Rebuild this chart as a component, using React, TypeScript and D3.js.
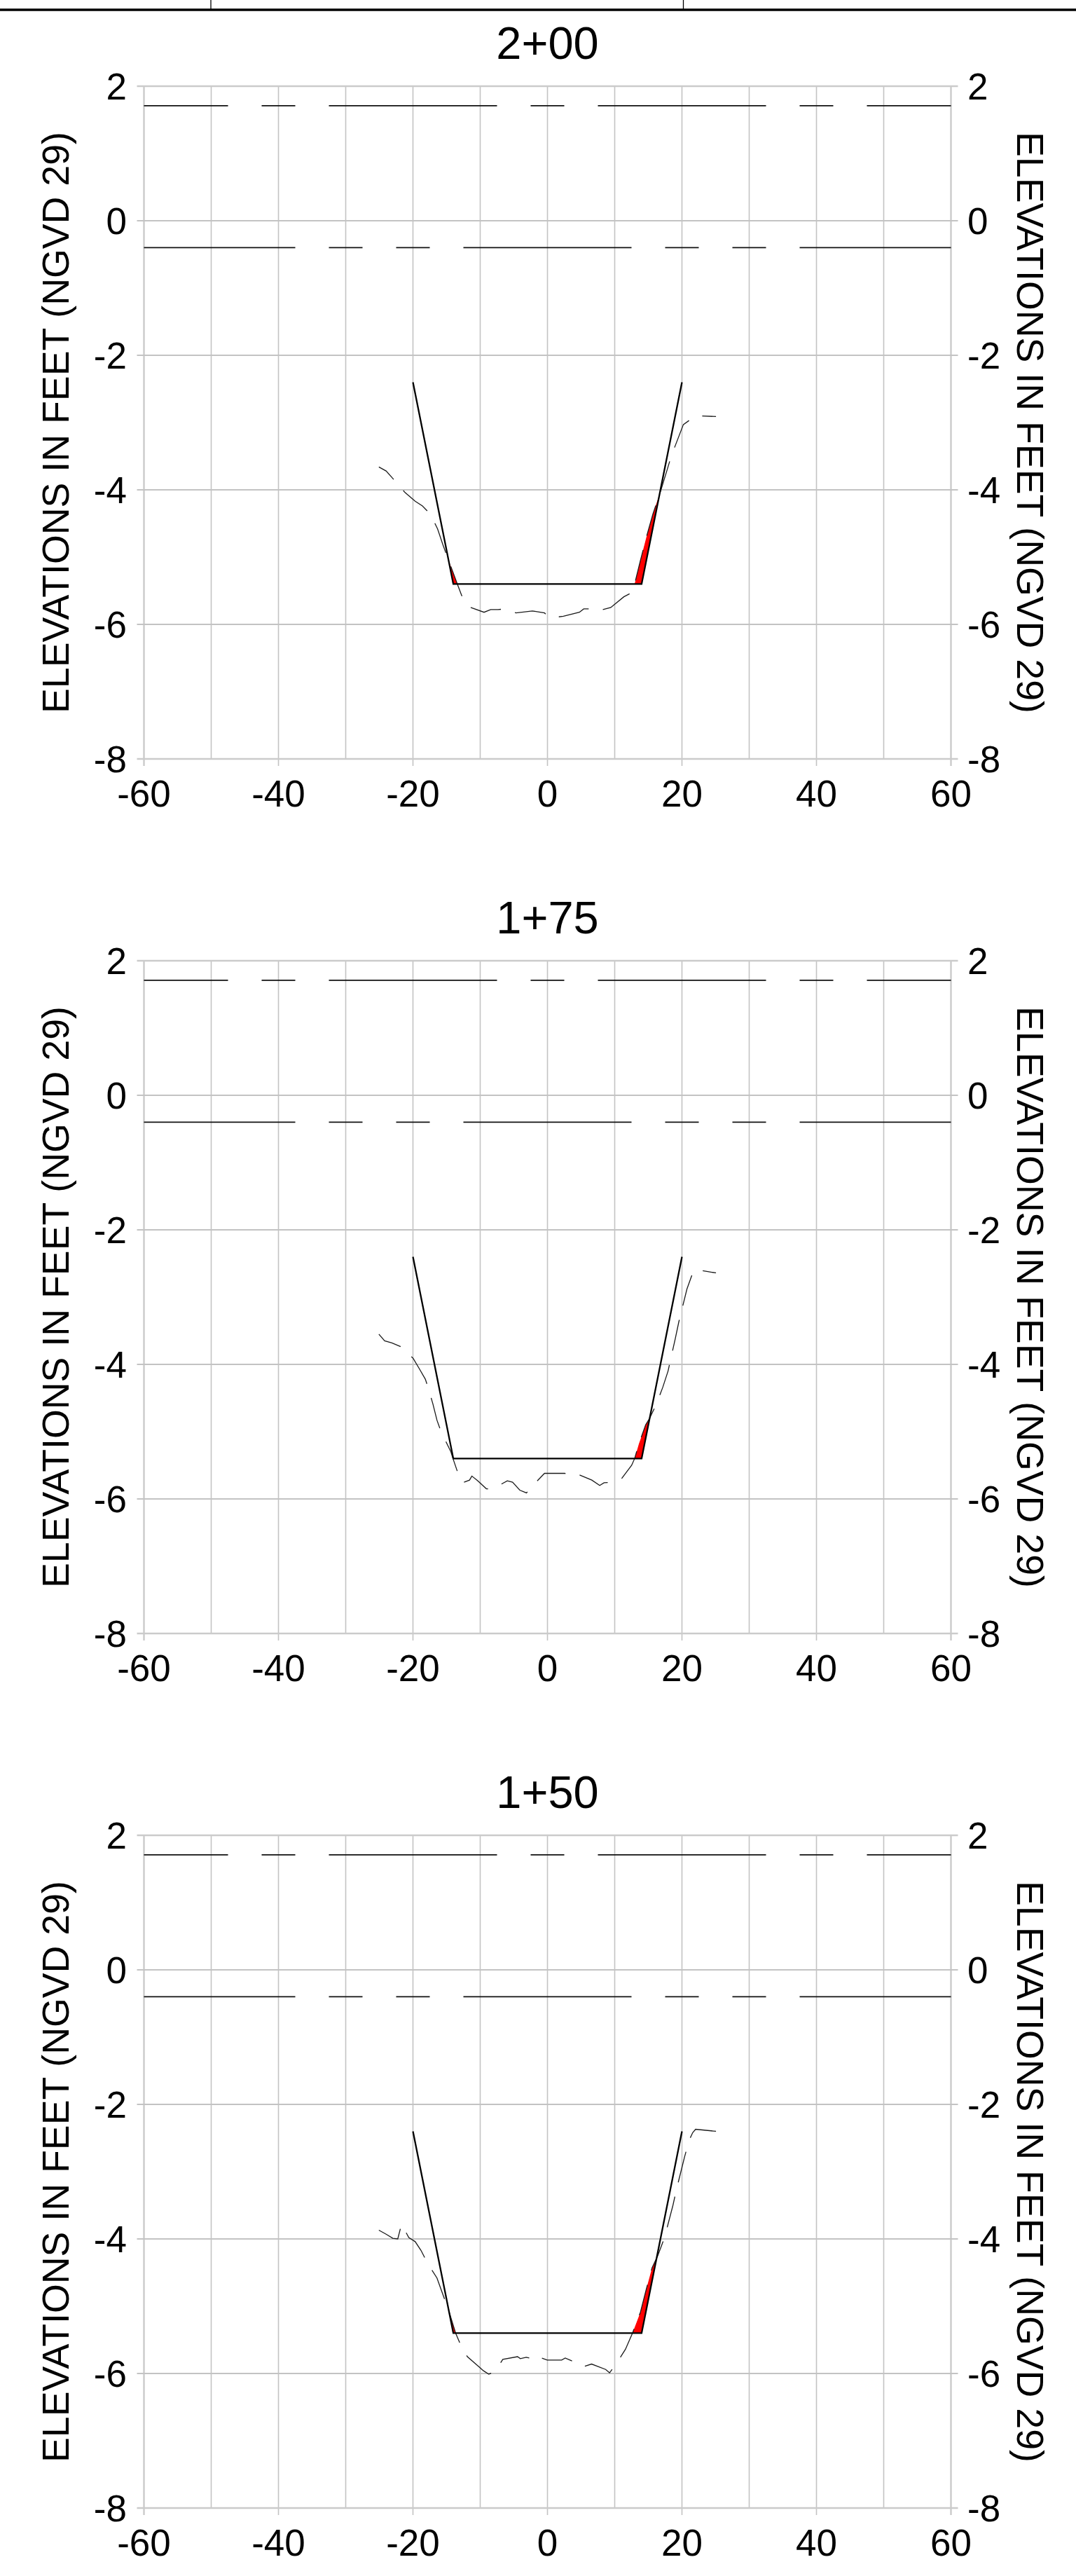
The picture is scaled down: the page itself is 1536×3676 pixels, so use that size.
import React from "react";
import * as d3 from "d3";

// ---------- data ----------
const stations = ["2+00", "1+75", "1+50"];
const xTickValues = [-60, -40, -20, 0, 20, 40, 60];
const xGridValues = [-60, -50, -40, -30, -20, -10, 0, 10, 20, 30, 40, 50, 60];
const yTickValues = [2, 0, -2, -4, -6, -8];
const axisTitle = "ELEVATIONS IN FEET (NGVD 29)";

// design channel template
const designX = [-20, -14, 14, 20];
const designY = [-2.4, -5.4, -5.4, -2.4];

// reference water levels
const upperLevel = 1.71;
const lowerLevel = -0.4;

// surveyed ground, station 2+00
const groundX200 = [-25.07, -23.99, -22.83, -21.18, -19.67, -18.59, -17.42, -16.34, -15.57, -14.7, -13.4, -12.76, -11.68, -9.43, -8.44, -7.35, -6.27, -4.67, -2.25, -0.44, 0.0, 0.86, 1.51, 2.37, 4.75, 5.39, 6.47, 7.43, 8.2, 9.41, 11.36, 12.31, 12.96, 13.82, 14.69, 15.68, 16.85, 17.71, 18.44, 20.21, 22.03, 25.06];
const groundY200 = [-3.66, -3.72, -3.85, -4.04, -4.17, -4.24, -4.36, -4.58, -4.81, -5.05, -5.4, -5.57, -5.74, -5.82, -5.78, -5.78, -5.77, -5.83, -5.8, -5.83, -5.87, -5.85, -5.89, -5.88, -5.82, -5.77, -5.77, -5.75, -5.78, -5.75, -5.59, -5.54, -5.4, -5.05, -4.71, -4.36, -4.01, -3.73, -3.49, -3.03, -2.9, -2.91];

// surveyed ground, station 1+75
const groundX175 = [-25.07, -24.21, -23.13, -21.75, -19.97, -19.02, -18.16, -17.73, -17.03, -16.43, -16.0, -15.48, -14.36, -14.05, -13.4, -12.67, -11.59, -11.24, -10.38, -9.08, -8.09, -5.97, -5.19, -4.11, -3.12, -2.17, -0.44, 2.58, 3.67, 4.44, 6.6, 7.77, 8.42, 9.72, 11.01, 12.52, 12.96, 13.6, 14.6, 15.2, 16.2, 17.15, 17.93, 19.0, 19.53, 20.74, 21.6, 21.9, 25.06];
const groundY175 = [-3.55, -3.65, -3.68, -3.74, -3.91, -4.07, -4.22, -4.35, -4.59, -4.83, -4.95, -5.07, -5.3, -5.4, -5.59, -5.76, -5.72, -5.66, -5.73, -5.85, -5.85, -5.73, -5.75, -5.87, -5.91, -5.8, -5.62, -5.62, -5.65, -5.63, -5.72, -5.8, -5.76, -5.75, -5.7, -5.5, -5.4, -5.18, -4.9, -4.8, -4.59, -4.34, -4.1, -3.62, -3.37, -2.88, -2.64, -2.59, -2.64];

// surveyed ground, station 1+50
const groundX150 = [-25.07, -23.99, -22.99, -22.26, -21.7, -20.62, -19.67, -18.81, -17.73, -16.43, -15.57, -14.7, -13.62, -12.71, -11.91, -10.18, -9.51, -8.72, -7.78, -6.64, -4.45, -4.03, -3.16, -2.29, -1.7, -0.91, -0.03, 2.11, 2.64, 3.78, 4.48, 5.35, 6.56, 8.65, 9.24, 10.21, 11.6, 12.64, 13.82, 14.69, 15.55, 16.4, 17.41, 18.66, 19.22, 20.39, 21.08, 21.6, 22.03, 25.06];
const groundY150 = [-3.87, -3.93, -3.99, -4.0, -3.78, -3.98, -4.04, -4.17, -4.38, -4.58, -4.82, -5.06, -5.41, -5.62, -5.75, -5.9, -5.96, -6.01, -5.97, -5.79, -5.75, -5.78, -5.76, -5.78, -5.73, -5.77, -5.8, -5.8, -5.77, -5.82, -5.83, -5.9, -5.86, -5.94, -5.99, -5.86, -5.64, -5.4, -5.09, -4.75, -4.43, -4.25, -3.98, -3.5, -3.25, -2.78, -2.53, -2.42, -2.37, -2.4];

const groundXs = [groundX200, groundX175, groundX150];
const groundYs = [groundY200, groundY175, groundY150];

// ---------- layout / style ----------
const W = 1536;
const H = 3676;
const PANEL_STEP = 1248;
const PLOT_LEFT = 205.5;
const PLOT_RIGHT = 1357.5;
const PLOT_TOP0 = 123;
const PLOT_H = 960;
const FONT = "'Liberation Sans', Arial, Helvetica, sans-serif";
const NARROW = "'Liberation Sans Narrow', 'Arial Narrow', 'Liberation Sans', Arial, sans-serif";
const GRID = "#c3c3c3";
const FRAME = "#cbcbcb";
const groundDashOffsets = [17, 8, 0];

function Panel({ index }: { index: number }) {
  const top = PLOT_TOP0 + index * PANEL_STEP;
  const x = d3.scaleLinear().domain([-60, 60]).range([PLOT_LEFT, PLOT_RIGHT]);
  const y = d3.scaleLinear().domain([-8, 2]).range([top + PLOT_H, top]);
  const u = x(1) - x(0);

  const design = designX.map((d, i) => [d, designY[i]] as [number, number]);
  const ground = groundXs[index].map((d, i) => [d, groundYs[index][i]] as [number, number]);

  const line = d3
    .line<[number, number]>()
    .x((d) => x(d[0]))
    .y((d) => y(d[1]));
  const area = d3
    .area<[number, number]>()
    .x((d) => x(d[0]))
    .y0(y(-8))
    .y1((d) => y(d[1]));

  const clipId = `channel-clip-${index}`;
  const left = x(-60);
  const right = x(60);

  return (
    <g>
      <text x={x(0)} y={top - 39} fontFamily={FONT} fontSize={65} textAnchor="middle" fill="#000">
        {stations[index]}
      </text>

      {/* vertical grid */}
      {xGridValues.map((v) => (
        <line
          key={`vg${v}`}
          x1={x(v)}
          x2={x(v)}
          y1={y(2)}
          y2={xTickValues.includes(v) ? y(-8) + 10 : y(-8)}
          stroke={v === -60 || v === 60 ? FRAME : GRID}
          strokeWidth={v === -60 || v === 60 ? 2.4 : 1.6}
        />
      ))}
      {/* horizontal grid */}
      {yTickValues.map((v) => (
        <line
          key={`hg${v}`}
          x1={left - 10}
          x2={right + 10}
          y1={y(v)}
          y2={y(v)}
          stroke={v === 2 || v === -8 ? FRAME : GRID}
          strokeWidth={v === 2 || v === -8 ? 2.6 : 1.8}
        />
      ))}

      {/* tick labels */}
      {yTickValues.map((v) => (
        <text key={`yl${v}`} x={181} y={y(v) + 19} fontFamily={FONT} fontSize={53} textAnchor="end" fill="#000">
          {v}
        </text>
      ))}
      {yTickValues.map((v) => (
        <text key={`yr${v}`} x={1381} y={y(v) + 19} fontFamily={FONT} fontSize={53} textAnchor="start" fill="#000">
          {v}
        </text>
      ))}
      {xTickValues.map((v) => (
        <text key={`xl${v}`} x={x(v)} y={y(-8) + 68} fontFamily={FONT} fontSize={53} textAnchor="middle" fill="#000">
          {v}
        </text>
      ))}

      {/* axis titles */}
      <text
        transform={`translate(98, ${top + PLOT_H / 2}) rotate(-90)`}
        fontFamily={NARROW}
        fontSize={53}
        textAnchor="middle"
        textLength={830}
        lengthAdjust="spacingAndGlyphs"
        fill="#000"
      >
        {axisTitle}
      </text>
      <text
        transform={`translate(1452, ${top + PLOT_H / 2}) rotate(90)`}
        fontFamily={NARROW}
        fontSize={53}
        textAnchor="middle"
        textLength={830}
        lengthAdjust="spacingAndGlyphs"
        fill="#000"
      >
        {axisTitle}
      </text>

      {/* water levels */}
      <line
        x1={left}
        x2={right}
        y1={y(upperLevel)}
        y2={y(upperLevel)}
        stroke="#111"
        strokeWidth={1.8}
        strokeDasharray={[25 * u, 5 * u, 5 * u, 5 * u].join(" ")}
        strokeDashoffset={12.5 * u}
      />
      <line
        x1={left}
        x2={right}
        y1={y(lowerLevel)}
        y2={y(lowerLevel)}
        stroke="#111"
        strokeWidth={1.8}
        strokeDasharray={[25 * u, 5 * u, 5 * u, 5 * u, 5 * u, 5 * u].join(" ")}
        strokeDashoffset={2.5 * u}
      />

      {/* cut area: ground inside the design channel */}
      <defs>
        <clipPath id={clipId}>
          <path d={line(design)! + "Z"} />
        </clipPath>
      </defs>
      <path d={area(ground)!} fill="#ff0000" clipPath={`url(#${clipId})`} />

      {/* existing ground */}
      <path
        d={line(ground)!}
        fill="none"
        stroke="#1a1a1a"
        strokeWidth={1.3}
        strokeDasharray="45 21"
        strokeDashoffset={groundDashOffsets[index]}
      />

      {/* design channel */}
      <path d={line(design)!} fill="none" stroke="#000" strokeWidth={2.3} strokeLinejoin="miter" />
    </g>
  );
}

export default function App() {
  return (
    <svg
      width={W}
      height={H}
      viewBox={`0 0 ${W} ${H}`}
      style={{ position: "absolute", left: 0, top: 0, background: "#fff" }}
    >
      <rect x={0} y={0} width={W} height={H} fill="#fff" />
      {/* title block edge at the top of the sheet */}
      <line x1={301} x2={301} y1={0} y2={13} stroke="#000" strokeWidth={1.3} />
      <line x1={975.5} x2={975.5} y1={0} y2={13} stroke="#000" strokeWidth={1.3} />
      <line x1={0} x2={W} y1={14} y2={14} stroke="#000" strokeWidth={3.5} />
      {stations.map((s, i) => (
        <Panel key={s} index={i} />
      ))}
    </svg>
  );
}
